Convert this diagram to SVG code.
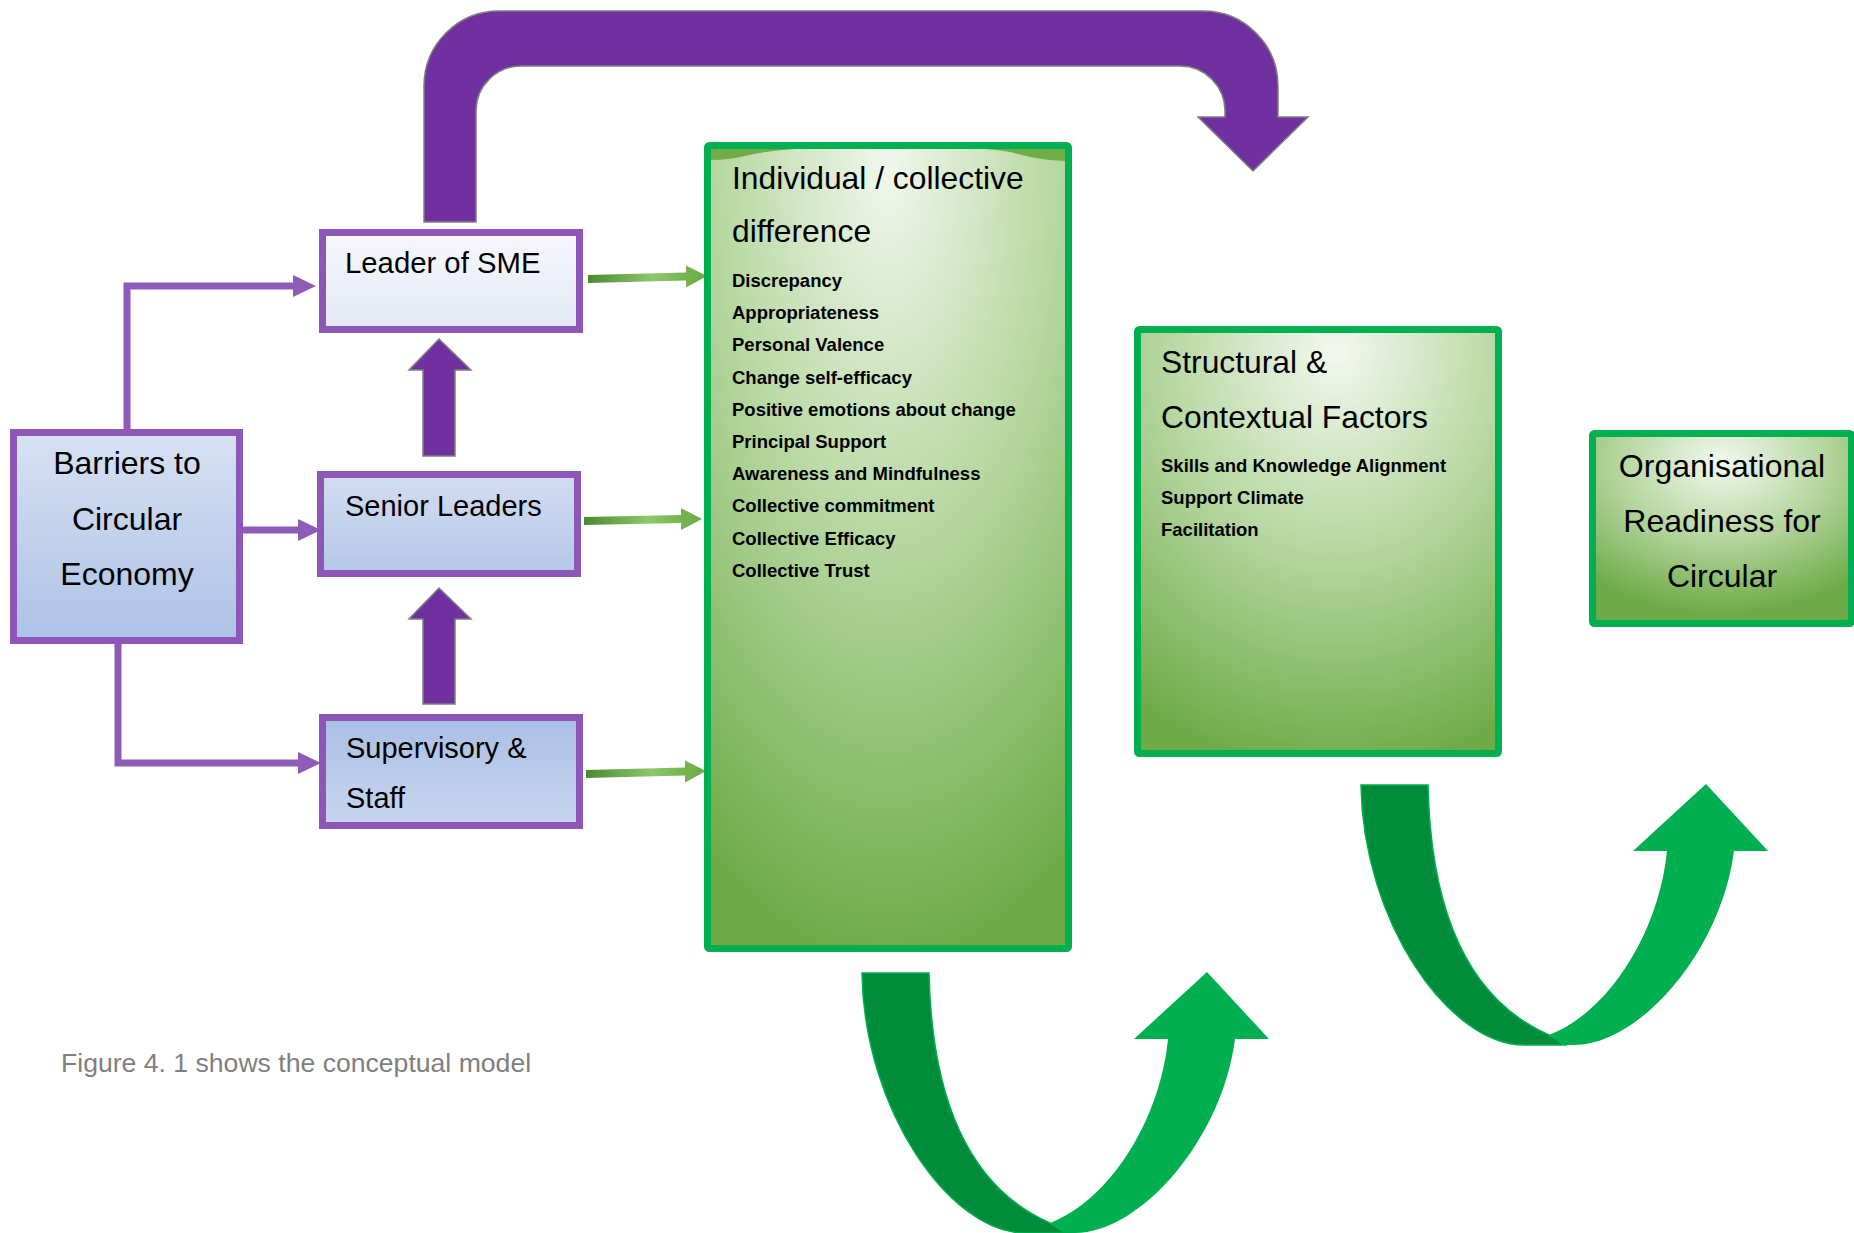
<svg xmlns="http://www.w3.org/2000/svg" width="1854" height="1233" viewBox="0 0 1854 1233">
  <style>
    text { font-family: "Liberation Sans", Arial, sans-serif; fill: #000; }
    .box { stroke: #8c57b6; stroke-width: 7; }
    .gbox { stroke: #00B050; stroke-width: 7; }
    .lbl { font-size: 29px; }
    .title { font-size: 31.8px; }
    .item { font-size: 18.5px; font-weight: bold; }
    .link { fill: none; stroke: #8e5bb7; stroke-width: 7; stroke-linejoin: miter; }
    .block { fill: #7030A0; stroke: #7f7f7f; stroke-width: 1.5; }
    .gdark { fill: #008C3A; stroke: #00B050; stroke-width: 1.5; }
    .glight { fill: #00B050; }
    .garrow { fill: url(#gArrow); }
    .caption { font-size: 26.6px; fill: #7f7f7f; }
  </style>
  <defs>
    <linearGradient id="pLeader" x1="0" y1="0" x2="0" y2="1">
      <stop offset="0" stop-color="#f8f8fd"/>
      <stop offset="1" stop-color="#e2e8f5"/>
    </linearGradient>
    <linearGradient id="pSenior" x1="0" y1="0" x2="0" y2="1">
      <stop offset="0" stop-color="#d3ddf1"/>
      <stop offset="1" stop-color="#b5c7e8"/>
    </linearGradient>
    <linearGradient id="pStaff" x1="0" y1="0" x2="0" y2="1">
      <stop offset="0" stop-color="#aabfe4"/>
      <stop offset="1" stop-color="#c8d5ef"/>
    </linearGradient>
    <linearGradient id="pBarrier" x1="0" y1="0" x2="0" y2="1">
      <stop offset="0" stop-color="#d7e1f3"/>
      <stop offset="1" stop-color="#adc2e6"/>
    </linearGradient>
    <radialGradient id="gTall" cx="0.5" cy="0.02" r="1" fx="0.5" fy="0.02">
      <stop offset="0" stop-color="#f1f7ed"/>
      <stop offset="0.45" stop-color="#b9d9a4"/>
      <stop offset="1" stop-color="#6eaa47"/>
    </radialGradient>
    <radialGradient id="gMid" cx="0.55" cy="0.05" r="1" fx="0.55" fy="0.05">
      <stop offset="0" stop-color="#f3f8ef"/>
      <stop offset="0.45" stop-color="#b9d9a4"/>
      <stop offset="1" stop-color="#6eaa47"/>
    </radialGradient>
    <radialGradient id="gSmall" cx="0.5" cy="0.15" r="0.8" fx="0.5" fy="0.15">
      <stop offset="0" stop-color="#f3f8ef"/>
      <stop offset="0.5" stop-color="#b5d69f"/>
      <stop offset="1" stop-color="#6eaa47"/>
    </radialGradient>
    <linearGradient id="gArrow" x1="0" y1="0" x2="1" y2="0">
      <stop offset="0" stop-color="#4b8a2f"/>
      <stop offset="0.55" stop-color="#8ec76c"/>
      <stop offset="0.8" stop-color="#76b551"/>
      <stop offset="1" stop-color="#6aaa44"/>
    </linearGradient>
    <marker id="ph" markerUnits="userSpaceOnUse" markerWidth="24" markerHeight="24" viewBox="0 0 24 24" refX="3" refY="12" orient="auto">
      <path d="M0,1 L23,12 L0,23 Z" fill="#8e5bb7"/>
    </marker>
    <!-- U-shaped turn arrow: dark descending band, light rising band with head -->
    <g id="uturn">
      <path class="gdark" d="M862,973 H929 C932,1110 975,1190 1050,1223 L1066,1233 H1025 C950,1233 864,1110 862,973 Z"/>
      <path class="glight" d="M1050,1223 C1110,1200 1160,1120 1168,1039 H1134 L1207,972 L1269,1039 H1235 C1222,1140 1140,1233 1075,1233 H1066 Z"/>
    </g>
  </defs>

  <rect width="1854" height="1233" fill="#fff"/>

  <!-- connectors -->
  <g id="connectors">
    <!-- large loop from Leader of SME over the top -->
    <path class="block" d="M424,222 V86 A75,75 0 0 1 499,11 H1203 A75,75 0 0 1 1278,86 V117 H1308 L1253,171 L1198,117 H1225 V111 A45,45 0 0 0 1180,66 H521 A45,45 0 0 0 476,111 V222 Z"/>
    <!-- upward block arrows -->
    <path class="block" d="M423,456 V370 H409 L439,339 L471,370 H455 V456 Z"/>
    <path class="block" d="M423,704 V619 H409 L439,588 L471,619 H455 V704 Z"/>
    <!-- thin links from Barriers -->
    <path class="link" d="M127,432 V286 H296" marker-end="url(#ph)"/>
    <path class="link" d="M243,530 H301" marker-end="url(#ph)"/>
    <path class="link" d="M118,641 V763 H301" marker-end="url(#ph)"/>
    <!-- green arrows into the individual / collective box -->
    <polygon class="garrow" points="588,275 686,272.5 686,265.5 707,276 686,287.5 686,280.5 588,283"/>
    <polygon class="garrow" points="584,517 681,515 681,508 702,519 681,530 681,523 584,525"/>
    <polygon class="garrow" points="586,770 685,767.5 685,760.5 706,771 685,782.5 685,775.5 586,778"/>
    <!-- U-turn arrows -->
    <use href="#uturn"/>
    <use href="#uturn" x="499" y="-188"/>
  </g>

  <g id="barriers">
    <rect class="box" x="13.5" y="432.5" width="226" height="208" fill="url(#pBarrier)"/>
    <text x="127" y="474" font-size="32" text-anchor="middle">Barriers to</text>
    <text x="127" y="530" font-size="32" text-anchor="middle">Circular</text>
    <text x="127" y="585" font-size="32" text-anchor="middle">Economy</text>
  </g>

  <g id="leader">
    <rect class="box" x="322.5" y="232.5" width="257" height="97" fill="url(#pLeader)"/>
    <text x="345" y="273" font-size="29.3">Leader of SME</text>
  </g>

  <g id="senior">
    <rect class="box" x="320.5" y="474.5" width="257" height="99" fill="url(#pSenior)"/>
    <text class="lbl" x="345" y="516">Senior Leaders</text>
  </g>

  <g id="staff">
    <rect class="box" x="322.5" y="717.5" width="257" height="108" fill="url(#pStaff)"/>
    <text class="lbl" x="346" y="758">Supervisory &amp;</text>
    <text class="lbl" x="346" y="808">Staff</text>
  </g>

  <g id="individual">
    <rect class="gbox" x="707.5" y="145.5" width="361" height="803" rx="2" fill="url(#gTall)"/>
    <path d="M711,149 H795 Q765,151 745,156 Q728,160 711,160 Z" fill="#70AD47"/>
    <path d="M985,149 H1065 V161 Q1040,160 1022,155 Q1005,150 985,149 Z" fill="#70AD47"/>
    <text class="title" x="732" y="189">Individual / collective</text>
    <text class="title" x="732" y="242">difference</text>
    <text class="item" x="732" y="287">Discrepancy</text>
    <text class="item" x="732" y="319.2">Appropriateness</text>
    <text class="item" x="732" y="351.4">Personal Valence</text>
    <text class="item" x="732" y="383.6">Change self-efficacy</text>
    <text class="item" x="732" y="415.8">Positive emotions about change</text>
    <text class="item" x="732" y="448">Principal Support</text>
    <text class="item" x="732" y="480.2">Awareness and Mindfulness</text>
    <text class="item" x="732" y="512.4">Collective commitment</text>
    <text class="item" x="732" y="544.6">Collective Efficacy</text>
    <text class="item" x="732" y="576.8">Collective Trust</text>
  </g>

  <g id="structural">
    <rect class="gbox" x="1137.5" y="329.5" width="361" height="424" rx="2" fill="url(#gMid)"/>
    <text class="title" x="1161" y="373">Structural &amp;</text>
    <text class="title" x="1161" y="428">Contextual Factors</text>
    <text class="item" x="1161" y="472">Skills and Knowledge Alignment</text>
    <text class="item" x="1161" y="504">Support Climate</text>
    <text class="item" x="1161" y="536">Facilitation</text>
  </g>

  <g id="readiness">
    <rect class="gbox" x="1592.5" y="433.5" width="259" height="190" rx="2" fill="url(#gSmall)"/>
    <text x="1722" y="477" font-size="32" text-anchor="middle">Organisational</text>
    <text x="1722" y="532" font-size="32" text-anchor="middle">Readiness for</text>
    <text x="1722" y="587" font-size="32" text-anchor="middle">Circular</text>
  </g>

  <text class="caption" x="61" y="1072">Figure 4. 1 shows the conceptual model</text>
</svg>
